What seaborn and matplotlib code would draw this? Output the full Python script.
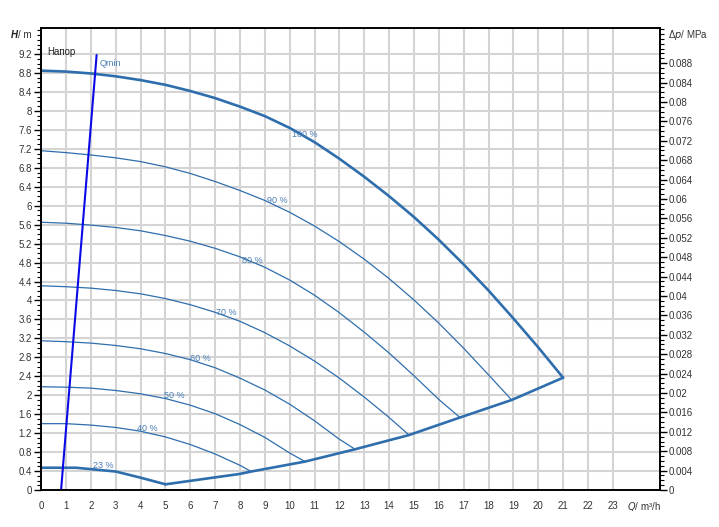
import numpy as np
import pandas as pd
import matplotlib
matplotlib.use("Agg")
import matplotlib.pyplot as plt
from matplotlib.ticker import MultipleLocator, FixedLocator, FuncFormatter
import seaborn as sns

# pump curves (Q in m3/h, H in m)
q100 = [0, 1, 2, 3, 4, 5, 6, 7, 8, 9, 10, 11, 12, 13, 14, 15, 16, 17, 18, 19, 20, 21]
h100 = [8.85, 8.83, 8.79, 8.73, 8.65, 8.55, 8.42, 8.27, 8.09, 7.89, 7.64, 7.34,
        6.99, 6.61, 6.20, 5.76, 5.28, 4.76, 4.21, 3.62, 3.01, 2.37]
q90 = [0, 1, 2, 3, 4, 5, 6, 7, 8, 9, 10, 11, 12, 13, 14, 15, 16, 17, 18, 18.93]
h90 = [7.16, 7.12, 7.07, 7.01, 6.93, 6.82, 6.68, 6.51, 6.32, 6.11, 5.86, 5.57,
       5.24, 4.87, 4.46, 4.01, 3.52, 2.99, 2.43, 1.90]
q80 = [0, 1, 2, 3, 4, 5, 6, 7, 8, 9, 10, 11, 12, 13, 14, 15, 16, 16.85]
h80 = [5.65, 5.63, 5.59, 5.54, 5.47, 5.37, 5.25, 5.10, 4.92, 4.70, 4.43, 4.11,
       3.74, 3.33, 2.89, 2.41, 1.91, 1.53]
q70 = [0, 1, 2, 3, 4, 5, 6, 7, 8, 9, 10, 11, 12, 13, 14, 14.8]
h70 = [4.31, 4.29, 4.26, 4.21, 4.14, 4.04, 3.91, 3.75, 3.56, 3.32, 3.04, 2.72,
       2.36, 1.96, 1.53, 1.16]
q60 = [0, 1, 2, 3, 4, 5, 6, 7, 8, 9, 10, 11, 12, 12.63]
h60 = [3.15, 3.13, 3.10, 3.05, 2.98, 2.88, 2.75, 2.58, 2.36, 2.11, 1.81, 1.46, 1.07, 0.86]
q50 = [0, 1, 2, 3, 4, 5, 6, 7, 8, 9, 10, 10.62]
h50 = [2.18, 2.17, 2.15, 2.10, 2.03, 1.93, 1.79, 1.61, 1.38, 1.11, 0.78, 0.60]
q40 = [0, 1, 2, 3, 4, 5, 6, 7, 8, 8.45]
h40 = [1.40, 1.40, 1.37, 1.32, 1.24, 1.12, 0.96, 0.76, 0.52, 0.39]
q23 = [0, 1.4, 2, 3, 4, 5]
h23 = [0.47, 0.47, 0.44, 0.39, 0.26, 0.12]

# lower limit line through the curve ends
q_low = [5, 8, 8.45, 10.62, 12.63, 14.8, 16.85, 18.93, 21]
h_low = [0.12, 0.34, 0.39, 0.60, 0.86, 1.16, 1.53, 1.90, 2.37]

# Qmin line
q_min = [0.8, 2.23]
h_min = [0, 9.18]

speeds = ["100 %", "90 %", "80 %", "70 %", "60 %", "50 %", "40 %", "23 %"]
label_q = [10.08, 9.07, 8.07, 7.03, 5.99, 4.94, 3.87, 2.10]
label_h = [7.51, 6.10, 4.85, 3.75, 2.78, 1.99, 1.30, 0.51]

curve_col = "#2f6ead"
text_col = "#4a7db5"
rho_g = 0.00977  # MPa per m

sns.set_style("white")
plt.rcParams["font.family"] = ["Liberation Sans", "DejaVu Sans"]
plt.rcParams["font.size"] = 7

fig = plt.figure(figsize=(7.19, 5.27), dpi=100)
ax = fig.add_axes([0.0573, 0.0702, 0.8607, 0.8758])

xmax, ymax = 24.9, 9.74
ax.set_xlim(0, xmax)
ax.set_ylim(0, ymax)

# grid
ax.xaxis.set_major_locator(FixedLocator(list(range(0, 24))))
ax.yaxis.set_major_locator(FixedLocator(list(np.round(np.arange(0, 9.21, 0.4), 1))))
ax.xaxis.set_minor_locator(MultipleLocator(0.2))
ax.yaxis.set_minor_locator(MultipleLocator(0.1))
ax.grid(True, which="major", color="#d4d4d4", lw=1.5)
ax.set_axisbelow(True)
ax.yaxis.set_major_formatter(FuncFormatter(lambda v, p: "{:g}".format(round(v, 1))))

curves = [(q100, h100, 1.9), (q90, h90, 0.9), (q80, h80, 0.9), (q70, h70, 0.9),
          (q60, h60, 0.9), (q50, h50, 0.9), (q40, h40, 0.9), (q23, h23, 1.9)]
for q, h, w in curves:
    sns.lineplot(x=q, y=h, ax=ax, color=curve_col, lw=w, estimator=None, sort=False)
sns.lineplot(x=q_low, y=h_low, ax=ax, color=curve_col, lw=1.9, estimator=None, sort=False)
sns.lineplot(x=q_min, y=h_min, ax=ax, color="#0a0ae6", lw=1.5, estimator=None, sort=False)

for s, lq, lh in zip(speeds, label_q, label_h):
    ax.text(lq, lh, s, color=text_col, fontsize=6.5, ha="left", va="center")
ax.text(2.34, 9.0, "Qmin", color=text_col, fontsize=6.5, ha="left", va="center")
ax.text(0.23, 9.24, "Напор", color="#222222", fontsize=7, ha="left", va="center")

for sp in ax.spines.values():
    sp.set_color("black")
    sp.set_linewidth(1.2)
ax.tick_params(which="major", direction="out", length=5, width=1, colors="black",
               labelcolor="#333333", labelsize=7, pad=1.5, top=False, right=False)
ax.tick_params(which="minor", direction="out", length=3, width=0.8, colors="black",
               top=False, right=False)
ax.tick_params(axis="x", which="major", pad=3)
ax.set_xlabel("")
ax.set_ylabel("")

# axis titles drawn like tick labels
ax.annotate("/ m", xy=(0, 9.6), xycoords=("axes fraction", "data"), xytext=(-7, 0),
            textcoords="offset points", ha="right", va="center", color="#333333", fontsize=7)
ax.annotate("H", xy=(0, 9.6), xycoords=("axes fraction", "data"), xytext=(-16.7, 0),
            textcoords="offset points", ha="right", va="center", color="#222222",
            fontsize=7, fontweight="bold", fontstyle="italic")
ax.text(24.25, -0.34, "$\\it{Q}$/ m³/h", ha="center", va="center", color="#333333", fontsize=7)

# right axis: pressure
ax2 = ax.twinx()
ax2.set_ylim(0, ymax * rho_g)
ax2.yaxis.set_major_locator(FixedLocator(list(np.round(np.arange(0, 0.0881, 0.004), 3))))
ax2.yaxis.set_minor_locator(MultipleLocator(0.001))
ax2.yaxis.set_major_formatter(FuncFormatter(lambda v, p: "{:g}".format(round(v, 3))))
ax2.tick_params(which="major", direction="out", length=5, width=1, colors="black",
                labelcolor="#333333", labelsize=7, pad=1.5)
ax2.tick_params(which="minor", direction="out", length=3, width=0.8, colors="black")
ax2.grid(False)
for sp in ax2.spines.values():
    sp.set_color("black")
    sp.set_linewidth(1.2)
ax2.annotate("Δ$\\it{p}$/ MPa", xy=(1, 9.6 * rho_g), xycoords=("axes fraction", "data"),
             xytext=(6, 0), textcoords="offset points", ha="left", va="center",
             color="#333333", fontsize=7)

fig.savefig("out.png", dpi=100)
